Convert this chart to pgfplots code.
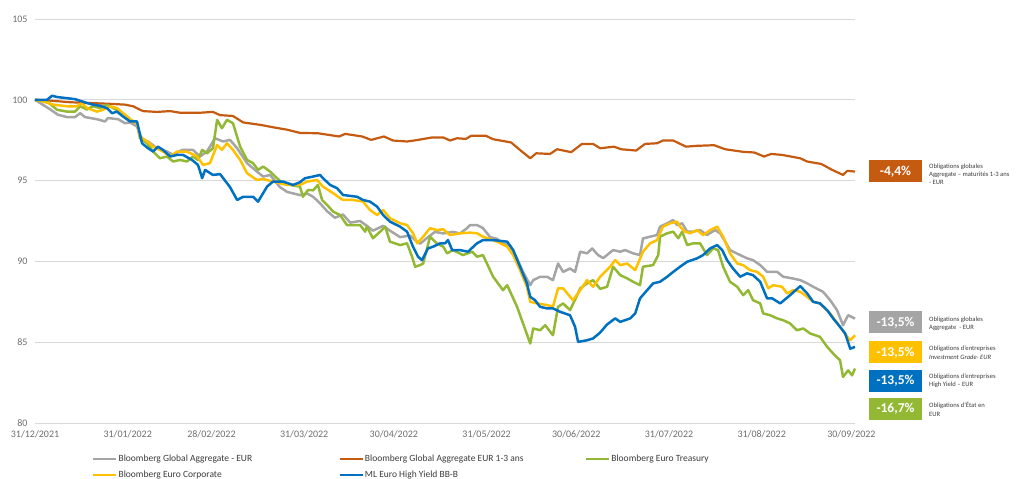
\documentclass[border=0pt]{standalone}
\usepackage{pgfplots}
\pgfplotsset{compat=1.18}
\usepackage{fontspec}
\setmainfont{Carlito}
\definecolor{cgray}{RGB}{165,165,165}
\definecolor{cred}{RGB}{197,90,17}
\definecolor{cgreen}{RGB}{146,184,52}
\definecolor{cyellow}{RGB}{255,192,0}
\definecolor{cblue}{RGB}{0,112,192}
\definecolor{gridc}{RGB}{217,217,217}
\definecolor{tickc}{RGB}{110,110,110}
\definecolor{descc}{RGB}{60,60,60}
\begin{document}
\begin{tikzpicture}[x=1pt,y=1pt]
\useasboundingbox (0,0) rectangle (1025,479);
\begin{axis}[
  at={(35pt,56pt)}, anchor=south west,
  scale only axis, width=820pt, height=404pt,
  xmin=0, xmax=274.2, ymin=80, ymax=105,
  axis line style={draw=none},
  major tick length=0pt,
  ymajorgrids, major grid style={color=gridc, line width=0.9pt},
  ytick={80,85,90,95,100,105},
  xtick={0,31,59,90,120,151,181,212,243,273},
  xticklabels={31/12/2021,31/01/2022,28/02/2022,31/03/2022,30/04/2022,31/05/2022,30/06/2022,31/07/2022,31/08/2022,30/09/2022},
  /pgf/number format/assume math mode=true,
  yticklabel style={font=\fontsize{10}{12}\selectfont, text=tickc, xshift=-4pt},
  xticklabel style={font=\fontsize{10}{12}\selectfont, text=tickc, yshift=-4pt},
  clip=false,
  legend columns=3,
  legend cell align=left,
  legend style={at={(0.0695,-0.075)}, anchor=north west, draw=none, fill=none,
    inner sep=0pt, font=\fontsize{9.5}{11}\selectfont, text=descc,
    nodes={inner xsep=1pt, inner ysep=1.5pt}, row sep=5pt},
  legend image code/.code={\draw[#1, line width=2.4pt] (0pt,0pt) -- (23pt,0pt);},
  every axis plot/.append style={line width=2.5pt, line join=round},
]
% Bloomberg Global Aggregate - EUR
\addplot[cgray] coordinates {
(0,100)(5.0,99.42)(7.7,99.07)(10.7,98.93)(13.4,98.93)(15.1,99.17)(16.7,98.93)(20.7,98.8)(23.4,98.66)(24.4,98.87)(27.8,98.8)(30.1,98.55)(31.8,98.6)(34.1,98.35)(35.8,97.52)(37.8,97.42)(40.8,97.0)(44.1,96.8)(46.2,96.59)(49.2,96.9)(52.8,96.9)(55.2,96.49)(57.5,96.8)(60.2,97.62)(62.9,97.42)(65.2,97.52)(67.6,97.0)(70.9,96.08)(74.2,95.56)(76.3,95.25)(78.6,95.35)(81.9,94.6)(84.3,94.3)(88.6,94.1)(91.0,94.2)(93.0,94.0)(95.3,93.6)(97.7,93.1)(100.3,92.7)(103.0,92.9)(105.4,92.4)(108.7,92.5)(111.0,92.2)(113.0,91.9)(116.4,92.2)(118.7,91.9)(122.1,91.5)(125.4,91.6)(127.8,91.2)(128.8,91.1)(132.1,91.6)(133.8,91.83)(136.5,91.73)(139.8,91.83)(142.1,91.73)(144.5,92.06)(145.5,92.25)(147.8,92.25)(149.8,92.06)(152.2,91.5)(154.5,91.4)(156.5,91.1)(158.9,90.98)(161.2,90.17)(163.2,89.35)(165.6,88.53)(166.6,88.84)(168.9,89.05)(171.2,89.05)(173.2,88.84)(174.9,89.87)(176.6,89.35)(178.9,89.56)(180.6,89.35)(182.3,90.6)(184.6,90.5)(186.3,90.8)(188.3,90.39)(190.0,90.2)(191.3,90.4)(193.3,90.7)(195.7,90.6)(197.3,90.7)(200.0,90.5)(202.3,90.39)(203.3,91.42)(205.7,91.53)(208.0,91.63)(209.0,92.15)(211.4,92.36)(213.4,92.56)(214.7,92.25)(216.4,92.36)(218.1,91.84)(220.1,91.84)(222.4,91.94)(224.7,91.63)(227.4,91.94)(229.1,91.74)(230.8,91.22)(232.4,90.7)(235.8,90.39)(238.1,90.19)(240.1,90.08)(242.5,89.77)(244.8,89.35)(248.2,89.35)(250.2,89.05)(253.5,88.94)(255.9,88.84)(258.2,88.64)(260.2,88.43)(263.5,88.12)(265.9,87.6)(268.2,86.98)(270.2,86.05)(271.9,86.67)(274.2,86.46)
};
\addlegendentry{\makebox[219pt][l]{Bloomberg Global Aggregate - EUR}}
% Bloomberg Global Aggregate EUR 1-3 ans
\addplot[cred, line width=2.2pt] coordinates {
(0,100)(5.0,99.95)(11.7,99.85)(18.4,99.8)(25.1,99.75)(30.1,99.7)(32.8,99.6)(36.1,99.3)(40.8,99.25)(45.2,99.3)(48.5,99.2)(55.2,99.2)(59.5,99.25)(61.9,99.05)(66.2,99.0)(69.6,98.6)(75.3,98.45)(79.6,98.3)(84.3,98.15)(88.6,97.95)(94.6,97.93)(101.7,97.73)(103.7,97.89)(109.4,97.73)(112.4,97.52)(116.7,97.73)(119.7,97.48)(124.4,97.42)(126.8,97.48)(132.8,97.67)(136.5,97.67)(138.8,97.48)(141.1,97.62)(144.1,97.58)(145.8,97.77)(150.8,97.77)(153.2,97.56)(159.2,97.36)(161.5,97.0)(165.6,96.38)(167.6,96.69)(172.2,96.65)(174.6,96.94)(179.3,96.76)(182.9,97.27)(186.6,97.27)(189.0,97.0)(193.6,97.1)(196.0,96.94)(201.0,96.86)(204.0,97.27)(208.0,97.31)(210.0,97.48)(213.4,97.48)(217.7,97.1)(221.1,97.15)(227.1,97.19)(230.8,96.94)(236.8,96.78)(240.5,96.74)(243.8,96.49)(246.2,96.65)(249.8,96.59)(255.9,96.38)(258.2,96.18)(262.9,96.03)(266.6,95.66)(270.2,95.35)(271.6,95.6)(274.2,95.56)
};
\addlegendentry{\makebox[219pt][l]{Bloomberg Global Aggregate EUR 1-3 ans}}
% Bloomberg Euro Treasury
\addplot[cgreen] coordinates {
(0,100)(4.0,99.9)(7.4,99.38)(10.7,99.27)(13.4,99.27)(15.1,99.6)(17.4,99.4)(19.4,99.6)(21.7,99.49)(24.1,99.7)(26.1,99.49)(29.4,99.17)(31.8,98.76)(34.1,98.55)(35.1,97.62)(37.5,97.31)(39.5,96.8)(41.8,96.38)(44.1,96.49)(46.2,96.18)(48.5,96.28)(50.8,96.18)(52.8,96.49)(54.5,96.28)(55.9,96.9)(57.5,96.69)(59.5,97.0)(60.9,98.76)(62.5,98.24)(64.2,98.76)(66.2,98.55)(68.6,97.1)(70.9,96.28)(72.9,96.08)(74.6,95.66)(76.3,95.87)(78.6,95.56)(80.9,95.15)(82.9,94.84)(86.3,94.7)(88.6,94.63)(89.6,94.0)(91.3,94.42)(93.0,94.4)(94.6,94.73)(96.0,93.8)(97.7,93.49)(99.7,93.08)(102.0,92.87)(104.3,92.25)(106.4,92.25)(108.7,92.25)(110.4,91.84)(111.0,92.15)(113.0,91.43)(115.4,91.84)(117.1,92.15)(118.7,91.22)(122.1,91.01)(124.4,91.12)(126.1,90.29)(127.1,89.67)(128.8,89.77)(129.8,89.87)(132.1,91.53)(134.4,91.1)(136.5,90.91)(137.8,90.5)(139.8,90.7)(143.1,90.39)(146.2,90.6)(147.8,90.29)(149.8,90.39)(153.2,89.05)(156.5,88.22)(157.9,88.53)(161.2,87.19)(163.2,86.16)(165.6,84.92)(166.6,85.85)(168.9,85.74)(170.6,86.05)(173.2,85.43)(174.9,87.19)(176.6,87.4)(178.9,86.98)(181.3,87.91)(182.3,88.33)(184.6,88.64)(186.6,88.84)(189.0,88.3)(191.3,88.43)(193.3,89.67)(195.7,89.15)(198.0,88.95)(200.0,88.74)(202.3,88.53)(203.3,89.67)(206.7,89.77)(208.4,90.39)(209.0,91.53)(211.4,91.74)(213.4,91.84)(215.1,91.43)(216.4,91.84)(218.1,91.01)(220.1,91.12)(222.4,91.12)(224.7,90.39)(226.8,90.81)(228.4,90.7)(230.1,89.67)(232.4,88.74)(234.8,88.43)(236.8,87.91)(238.5,88.22)(240.1,87.6)(242.5,87.4)(243.5,86.78)(245.8,86.67)(248.2,86.47)(250.2,86.36)(252.5,86.16)(254.8,85.74)(256.9,85.85)(259.2,85.54)(262.5,85.33)(264.9,84.71)(266.9,84.3)(269.2,83.88)(270.2,82.85)(271.9,83.26)(273.2,82.95)(274.2,83.37)
};
\addlegendentry{Bloomberg Euro Treasury}
% Bloomberg Euro Corporate
\addplot[cyellow] coordinates {
(0,100)(2.7,99.9)(6.0,99.7)(10.7,99.6)(14.0,99.6)(15.7,99.8)(17.4,99.49)(20.7,99.27)(22.7,99.38)(25.1,99.6)(27.4,99.49)(30.8,98.97)(32.8,98.66)(34.1,98.55)(35.1,97.73)(37.5,97.42)(39.5,97.1)(42.8,96.8)(45.2,96.49)(47.5,96.8)(50.8,96.8)(54.2,96.49)(56.2,95.97)(58.5,96.08)(60.9,97.21)(62.5,96.9)(64.2,97.31)(66.2,96.9)(68.6,96.28)(70.9,95.46)(74.2,95.04)(76.3,95.1)(79.6,94.94)(84.3,94.73)(88.6,94.73)(91.0,94.94)(94.3,95.04)(96.3,94.63)(99.7,94.22)(103.0,93.8)(106.4,93.8)(109.7,93.7)(112.0,93.18)(114.4,92.87)(116.4,93.18)(118.7,92.67)(122.1,92.36)(124.4,92.25)(126.4,91.74)(127.8,91.12)(129.8,91.53)(132.1,92.05)(134.4,91.94)(136.5,91.99)(138.8,91.63)(142.1,91.74)(145.5,91.78)(147.8,91.74)(149.8,91.53)(154.5,91.22)(157.9,90.91)(159.9,90.39)(162.2,89.46)(164.5,88.43)(165.6,87.5)(167.9,87.4)(171.2,87.3)(173.2,87.2)(174.9,88.33)(176.6,88.33)(179.9,87.6)(182.3,88.22)(184.6,88.84)(186.6,88.43)(189.0,89.05)(192.3,89.67)(194.0,90.08)(195.7,89.77)(198.0,89.87)(200.7,89.46)(203.3,90.6)(205.7,91.12)(208.0,91.32)(210.0,92.15)(212.4,92.36)(214.7,92.46)(215.7,92.15)(217.4,91.84)(219.1,91.74)(221.4,91.94)(223.4,91.63)(225.8,91.94)(228.1,92.15)(230.1,91.53)(232.4,90.5)(234.8,89.87)(236.8,89.77)(239.1,89.46)(241.5,89.35)(243.5,89.05)(245.2,88.33)(246.8,88.53)(249.8,88.43)(251.5,88.02)(253.5,88.22)(255.9,88.12)(258.2,87.81)(260.2,87.5)(262.5,87.4)(265.9,86.78)(269.2,85.95)(271.6,85.33)(272.6,85.12)(274.2,85.43)
};
\addlegendentry{\makebox[219pt][l]{Bloomberg Euro Corporate}}
% ML Euro High Yield BB-B
\addplot[cblue] coordinates {
(0,100)(4.0,100)(5.7,100.25)(7.4,100.17)(10.7,100.1)(13.4,100.04)(17.4,99.8)(19.4,99.7)(21.7,99.63)(24.1,99.48)(25.8,99.17)(27.4,99.27)(29.4,98.97)(31.8,98.66)(34.1,98.66)(35.8,97.31)(37.8,97.0)(39.5,96.8)(41.1,97.1)(42.8,96.9)(45.2,96.49)(47.5,96.59)(49.5,96.59)(52.5,96.28)(54.5,95.97)(55.9,95.15)(56.9,95.66)(59.5,95.35)(61.9,95.4)(65.2,94.6)(67.6,93.8)(69.6,94.0)(72.9,94.0)(74.6,93.7)(77.6,94.63)(79.6,94.94)(82.9,94.94)(86.3,94.73)(88.6,94.9)(90.3,95.15)(93.0,95.25)(95.3,95.35)(96.3,95.15)(98.7,94.73)(101.0,94.53)(103.0,94.11)(107.7,94.0)(109.7,93.8)(112.0,93.7)(114.4,93.39)(116.4,92.87)(118.7,92.46)(122.1,92.15)(124.4,91.84)(126.4,90.91)(128.1,90.29)(129.4,90.08)(131.4,90.8)(133.1,90.91)(135.5,91.12)(137.1,91.12)(138.1,91.32)(139.5,90.7)(142.1,90.7)(144.8,90.6)(147.8,91.12)(149.8,91.32)(153.2,91.32)(157.9,91.22)(159.9,90.7)(162.2,89.67)(164.5,88.64)(165.6,87.81)(167.2,87.6)(168.9,87.19)(171.2,87.09)(173.2,87.09)(175.6,86.88)(178.9,86.67)(180.6,85.95)(181.6,85.02)(184.6,85.12)(186.6,85.23)(189.0,85.6)(191.3,86.1)(194.0,86.47)(195.7,86.26)(199.0,86.47)(200.7,86.78)(202.3,87.71)(204.7,88.22)(206.7,88.64)(209.0,88.74)(211.4,89.05)(213.4,89.35)(215.7,89.67)(218.1,89.98)(221.4,90.19)(223.4,90.39)(225.8,90.81)(228.1,91.01)(229.8,90.7)(231.4,90.08)(233.4,89.56)(235.8,89.05)(238.1,89.26)(240.1,89.15)(242.5,88.74)(244.8,87.71)(246.5,87.71)(249.2,87.4)(252.5,87.91)(255.9,88.47)(258.2,88.02)(260.2,87.5)(262.5,87.4)(264.9,86.98)(266.9,86.47)(269.2,85.95)(270.9,85.54)(272.6,84.6)(274.2,84.71)
};
\addlegendentry{ML Euro High Yield BB-B}
\end{axis}
% annotation boxes
\tikzset{valbox/.style={minimum width=53pt, minimum height=22pt, inner sep=0pt, text=white, font=\fontsize{13.5}{14}\selectfont\bfseries},
  desc/.style={anchor=west, align=left, inner sep=0pt, text=descc, font=\fontsize{6.6}{8.3}\selectfont}}
\node[valbox, fill=cred] at (895.5,307.5) {-4,4\%};
\node[desc] at (929,304.7) {Obligations globales\\Aggregate – maturités 1-3 ans\\- EUR};
\node[valbox, fill=cgray] at (895.5,156.5) {-13,5\%};
\node[desc] at (929,155) {Obligations globales\\Aggregate \ - EUR};
\node[valbox, fill=cyellow] at (895.5,126.5) {-13,5\%};
\node[desc] at (929,126.2) {Obligations d’entreprises\\\textit{Investment Grade- EUR}};
\node[valbox, fill=cblue] at (895.5,98) {-13,5\%};
\node[desc] at (929,98.2) {Obligations d’entreprises\\High Yield – EUR};
\node[valbox, fill=cgreen] at (895.5,70) {-16,7\%};
\node[desc] at (929,69.8) {Obligations d’État en\\EUR};
\end{tikzpicture}
\end{document}
